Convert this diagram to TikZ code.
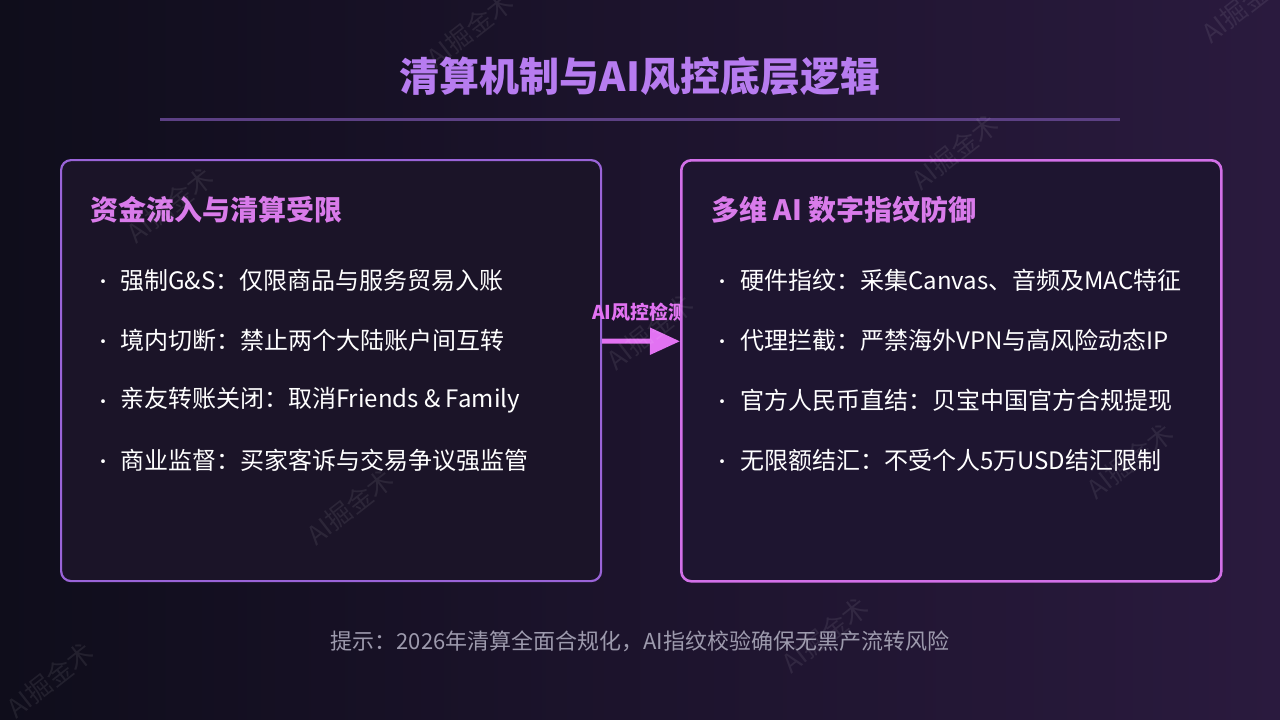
\documentclass[tikz,border=0pt]{standalone}
\usepackage{fontspec}
\setmainfont{Noto Sans CJK SC}
\usetikzlibrary{positioning,arrows.meta}
\definecolor{bgleft}{HTML}{0F0D1B}
\definecolor{bgright}{HTML}{2A1A3E}
\definecolor{lboxfill}{HTML}{1B1428}
\definecolor{rboxfill}{HTML}{1E1530}
\definecolor{titlepurple}{HTML}{B77CF0}
\definecolor{headpink}{HTML}{D97BEA}
\definecolor{lborder}{HTML}{9A64D8}
\definecolor{rborder}{HTML}{D270E8}
\definecolor{arrowpink}{HTML}{E272F2}
\definecolor{rulepurple}{HTML}{5C4084}
\definecolor{hintgray}{HTML}{9D9AAD}

\tikzset{
  panel/.style={rounded corners=10pt,line width=2.2pt},
  panelhead/.style={anchor=west,inner sep=0pt,text=headpink,font=\fontsize{28}{32}\selectfont\bfseries},
  bulletdot/.style={inner sep=0pt,text=white,font=\fontsize{18}{22}\selectfont},
  itemtext/.style={anchor=west,inner sep=0pt,text=white,font=\fontsize{24}{28}\selectfont},
  wmark/.style={inner sep=0pt,text=white,opacity=0.08,rotate=38,font=\fontsize{26}{30}\selectfont}
}

\begin{document}
\begin{tikzpicture}[x=1pt,y=-1pt,>=Stealth]
\useasboundingbox (0,0) rectangle (1280,720);
\shade[left color=bgleft,right color=bgright] (0,0) rectangle (1280,720);

% title and rule
\node[text=titlepurple,font=\fontsize{40}{45}\selectfont\bfseries,inner sep=0pt] (title) at (640,76) {清算机制与AI风控底层逻辑};
\draw[rulepurple,line width=3pt] (160,119) -- (1120,119);

% left panel
\node[panel,draw=lborder,fill=lboxfill,minimum width=540pt,minimum height=421pt,anchor=north west] (lbox) at (60,159) {};
\node[panelhead] (lhead) at (90,210) {资金流入与清算受限};
\node[bulletdot] (lb1) at (103,284) {•};
\node[itemtext] (li1) at (120,280) {强制G\&S：仅限商品与服务贸易入账};
\node[bulletdot] (lb2) at (103,344) {•};
\node[itemtext] (li2) at (120,340) {境内切断：禁止两个大陆账户间互转};
\node[bulletdot] (lb3) at (103,404) {•};
\node[itemtext] (li3) at (120,400) {亲友转账关闭：取消Friends \& Family};
\node[bulletdot] (lb4) at (103,464) {•};
\node[itemtext] (li4) at (120,460) {商业监督：买家客诉与交易争议强监管};

% arrow label (partly hidden by the right panel)
\node[text=arrowpink,font=\fontsize{19}{22}\selectfont\bfseries,inner sep=0pt] (check) at (640,312) {AI风控检测};

% right panel
\node[panel,draw=rborder,fill=rboxfill,line width=2.6pt,minimum width=540pt,minimum height=421pt,anchor=north west] (rbox) at (680,159) {};
\node[panelhead] (rhead) at (711,210) {多维 AI 数字指纹防御};
\node[bulletdot] (rb1) at (722,284) {•};
\node[itemtext] (ri1) at (740,280) {硬件指纹：采集Canvas、音频及MAC特征};
\node[bulletdot] (rb2) at (722,344) {•};
\node[itemtext] (ri2) at (740,340) {代理拦截：严禁海外VPN与高风险动态IP};
\node[bulletdot] (rb3) at (722,404) {•};
\node[itemtext] (ri3) at (740,400) {官方人民币直结：贝宝中国官方合规提现};
\node[bulletdot] (rb4) at (722,464) {•};
\node[itemtext] (ri4) at (740,460) {无限额结汇：不受个人5万USD结汇限制};

\draw[arrowpink,line width=5pt,-{Triangle[length=30pt,width=26pt]}] ([yshift=29.5pt]lbox.east) -- ([yshift=29.5pt]rbox.west);

% hint
\node[text=hintgray,font=\fontsize{22}{26}\selectfont,inner sep=0pt] (hint) at (640,641) {提示：2026年清算全面合规化，AI指纹校验确保无黑产流转风险};

% watermarks
\node[wmark] (wm1) at (170,205) {AI掘金术};
\node[wmark] (wm2) at (470,30) {AI掘金术};
\node[wmark] (wm3) at (955,152) {AI掘金术};
\node[wmark] (wm4) at (650,332) {AI掘金术};
\node[wmark] (wm5) at (350,507) {AI掘金术};
\node[wmark] (wm6) at (1130,461) {AI掘金术};
\node[wmark] (wm7) at (825,635) {AI掘金术};
\node[wmark] (wm8) at (50,680) {AI掘金术};
\node[wmark] (wm9) at (1245,5) {AI掘金术};
\end{tikzpicture}
\end{document}
